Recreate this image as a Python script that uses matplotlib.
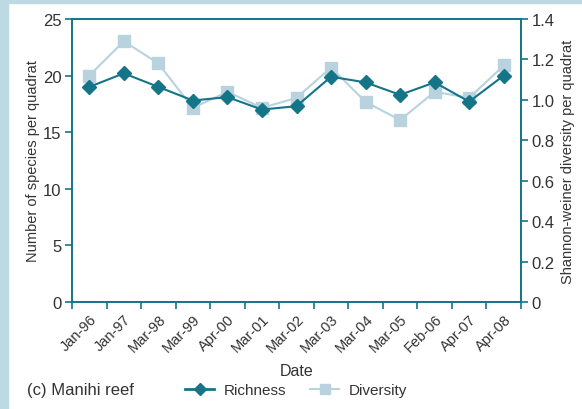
import numpy as np
import matplotlib.pyplot as plt
from matplotlib.patches import Rectangle
from matplotlib.lines import Line2D

plt.rcParams['font.family'] = ['Liberation Sans', 'DejaVu Sans']

dates = ['Jan-96', 'Jan-97', 'Mar-98', 'Mar-99', 'Apr-00', 'Mar-01', 'Mar-02',
         'Mar-03', 'Mar-04', 'Mar-05', 'Feb-06', 'Apr-07', 'Apr-08']
richness = [19.0, 20.2, 19.0, 17.8, 18.1, 17.0, 17.3, 19.9, 19.4, 18.3, 19.4, 17.7, 20.0]
diversity = [1.12, 1.29, 1.18, 0.96, 1.04, 0.96, 1.01, 1.16, 0.99, 0.90, 1.04, 1.01, 1.17]

teal = '#147488'
light = '#b8d3de'
strip = '#bcd9e4'
txt = '#333333'

fig = plt.figure(figsize=(5.82, 4.10), dpi=100)
# blue frame on left and top
fig.patches.append(Rectangle((0, 0), 8 / 582, 1, transform=fig.transFigure, color=strip, zorder=0))
fig.patches.append(Rectangle((0, 1 - 4 / 410), 1, 4 / 410, transform=fig.transFigure, color=strip, zorder=0))

ax = fig.add_axes([72 / 582, 1 - 303 / 410, (521 - 72) / 582, (303 - 20) / 410])
ax2 = ax.twinx()

x = np.arange(len(dates))
ax2.plot(x, diversity, color=light, lw=1.5, marker='s', ms=8, zorder=2)
ax.plot(x, richness, color=teal, lw=1.5, marker='D', ms=7, zorder=3)
ax.set_zorder(ax2.get_zorder() + 1)
ax.patch.set_visible(False)

ax.set_xlim(-0.5, len(dates) - 0.5)
ax.set_ylim(0, 25)
ax2.set_ylim(0, 1.4)
ax.set_yticks(np.arange(0, 26, 5))
ax2.set_yticks(np.arange(0, 1.41, 0.2))
ax2.set_yticklabels(['0'] + ['%.1f' % v for v in np.arange(0.2, 1.41, 0.2)])

ax.set_xticks(x)
ax.set_xticklabels(dates, rotation=45, ha='right', rotation_mode='anchor')
ax.set_xticks(np.arange(-0.5, len(dates)), minor=True)
ax.tick_params(axis='x', which='major', length=0, pad=7)
ax.tick_params(axis='x', which='minor', length=5, color=teal, width=1.2)

for a in (ax, ax2):
    for s in a.spines.values():
        s.set_color(teal)
        s.set_linewidth(1.2)
    a.tick_params(axis='y', length=5, color=teal, width=1.2, labelsize=12, labelcolor=txt, pad=2.5)
ax.tick_params(axis='x', labelsize=10.5, labelcolor=txt)

ax.set_ylabel('Number of species per quadrat', fontsize=10.5, color=txt, labelpad=2)
ax2.set_ylabel('Shannon-weiner diversity per quadrat', fontsize=10.5, color=txt, labelpad=5)
ax.set_xlabel('Date', fontsize=11.5, color=txt, labelpad=6)

fig.text(27 / 582, 1 - 391 / 410, '(c) Manihi reef', fontsize=12, color=txt, va='center')
handles = [Line2D([], [], color=teal, lw=2, marker='D', ms=6),
           Line2D([], [], color=light, lw=1.5, marker='s', ms=7)]
fig.legend(handles, ['Richness', 'Diversity'], loc='center', bbox_to_anchor=(296 / 582, 1 - 391 / 410),
           ncol=2, frameon=False, fontsize=11, handlelength=1.9, columnspacing=1.6,
           handletextpad=0.6, labelcolor=txt)

fig.savefig('out.png', dpi=100)
